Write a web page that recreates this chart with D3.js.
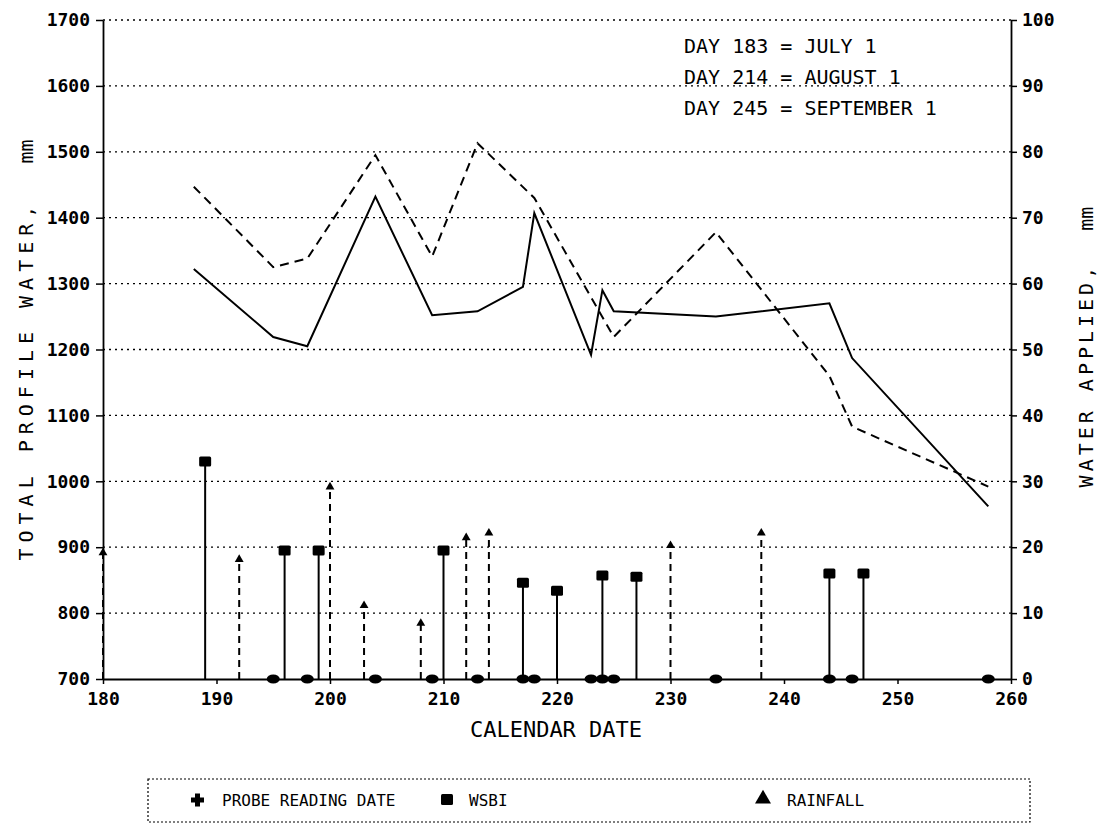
<!DOCTYPE html>
<html>
<head>
<meta charset="utf-8">
<script src="https://cdn.jsdelivr.net/npm/d3@7"></script>
<style>
  body { margin: 0; background: #fff; }
  svg text { font-family: 'DejaVu Sans Mono', monospace; fill: #000; }
</style>
</head>
<body>
<div id="chart"></div>
<script>
// readings, calendar day of year
const probeDays = [195, 198, 204, 209, 213, 217, 218, 223, 224, 225, 234, 244, 246, 258];

const wsbiDays = [189, 196, 199, 210, 217, 220, 224, 227, 244, 247];
const wsbiApplied = [33, 19.5, 19.5, 19.5, 14.6, 13.4, 15.7, 15.5, 16, 16];

const rainDays = [180, 192, 200, 203, 208, 212, 214, 230, 238];
const rainAmount = [19, 18, 29, 11, 8.3, 21.3, 22, 20.1, 22];

// total profile water, two treatments
const solidDays = [188, 195, 198, 204, 209, 213, 217, 218, 223, 224, 225, 234, 244, 246, 258];
const solidWater = [1322, 1219, 1205, 1432, 1252, 1258, 1295, 1407, 1192, 1290, 1258, 1250, 1270, 1187, 962];

const dashedDays = [188, 195, 198, 204, 209, 213, 218, 225, 234, 244, 246, 258];
const dashedWater = [1447, 1325, 1338, 1495, 1341, 1513, 1430, 1219, 1378, 1160, 1083, 992];

const xTicks = [180, 190, 200, 210, 220, 230, 240, 250, 260];
const leftTicks = [700, 800, 900, 1000, 1100, 1200, 1300, 1400, 1500, 1600, 1700];
const rightTicks = [0, 10, 20, 30, 40, 50, 60, 70, 80, 90, 100];

const notes = ['DAY 183 = JULY 1', 'DAY 214 = AUGUST 1', 'DAY 245 = SEPTEMBER 1'];

class WaterChart {
  selection(selector) {
    this._selection = d3.select(selector);
    return this;
  }

  props = {
    width: 1100,
    height: 825,
    left: 103,
    right: 1011,
    top: 20,
    bottom: 679,
    gridDash: '2,4',
  };

  draw() {
    const p = this.props;

    const svg = this._selection.append('svg')
      .attr('width', p.width)
      .attr('height', p.height);

    const x = d3.scaleLinear().domain([180, 260]).range([p.left, p.right]);
    const yL = d3.scaleLinear().domain([700, 1700]).range([p.bottom, p.top]);
    const yR = d3.scaleLinear().domain([0, 100]).range([p.bottom, p.top]);
    const fmt = d3.format('d');

    // dotted grid, the top border is dotted too
    svg.append('g').attr('class', 'grid')
      .selectAll('line')
      .data(leftTicks.slice(1))
      .join('line')
      .attr('x1', p.left).attr('x2', p.right)
      .attr('y1', d => yL(d)).attr('y2', d => yL(d))
      .attr('stroke', '#000')
      .attr('stroke-width', 1.3)
      .attr('stroke-dasharray', p.gridDash);

    const xAxis = svg.append('g')
      .attr('transform', `translate(0,${p.bottom})`)
      .call(d3.axisBottom(x).tickValues(xTicks).tickFormat(fmt).tickSize(5).tickPadding(8).tickSizeOuter(0));

    const leftAxis = svg.append('g')
      .attr('transform', `translate(${p.left},0)`)
      .call(d3.axisLeft(yL).tickValues(leftTicks).tickFormat(fmt).tickSize(7).tickPadding(6).tickSizeOuter(0));

    const rightAxis = svg.append('g')
      .attr('transform', `translate(${p.right},0)`)
      .call(d3.axisRight(yR).tickValues(rightTicks).tickFormat(fmt).tickSize(6).tickPadding(5).tickSizeOuter(0));

    [xAxis, leftAxis, rightAxis].forEach(g => {
      g.select('.domain').attr('stroke', '#000').attr('stroke-width', 1.8);
      g.selectAll('.tick line').attr('stroke', '#000').attr('stroke-width', 1.5);
      g.selectAll('.tick text')
        .attr('font-family', "'DejaVu Sans Mono', monospace")
        .attr('font-weight', 'bold')
        .attr('font-size', 18)
        .attr('fill', '#000');
    });

    // stems: wsbi solid with squares, rainfall dashed with triangles
    const wsbi = d3.zip(wsbiDays, wsbiApplied);
    const rain = d3.zip(rainDays, rainAmount);

    svg.append('g').selectAll('line')
      .data(wsbi)
      .join('line')
      .attr('x1', d => x(d[0])).attr('x2', d => x(d[0]))
      .attr('y1', yR(0)).attr('y2', d => yR(d[1]))
      .attr('stroke', '#000').attr('stroke-width', 2);

    svg.append('g').selectAll('rect')
      .data(wsbi)
      .join('rect')
      .attr('x', d => x(d[0]) - 6).attr('y', d => yR(d[1]) - 5)
      .attr('width', 12).attr('height', 10)
      .attr('rx', 1.5)
      .attr('fill', '#000');

    svg.append('g').selectAll('line')
      .data(rain)
      .join('line')
      .attr('x1', d => x(d[0])).attr('x2', d => x(d[0]))
      .attr('y1', yR(0)).attr('y2', d => yR(d[1]))
      .attr('stroke', '#000').attr('stroke-width', 2)
      .attr('stroke-dasharray', '7,5');

    const tri = d3.symbol().type(d3.symbolTriangle).size(34);
    svg.append('g').selectAll('path')
      .data(rain)
      .join('path')
      .attr('d', tri)
      .attr('transform', d => `translate(${x(d[0])},${yR(d[1]) - 1})`)
      .attr('fill', '#000');

    // probe reading dates sit on the baseline
    svg.append('g').selectAll('ellipse')
      .data(probeDays)
      .join('ellipse')
      .attr('cx', d => x(d)).attr('cy', yR(0))
      .attr('rx', 6.5).attr('ry', 4.5)
      .attr('fill', '#000');

    // profile water lines
    const line = d3.line().x(d => x(d[0])).y(d => yL(d[1]));

    svg.append('path')
      .datum(d3.zip(solidDays, solidWater))
      .attr('d', line)
      .attr('fill', 'none')
      .attr('stroke', '#000')
      .attr('stroke-width', 2);

    svg.append('path')
      .datum(d3.zip(dashedDays, dashedWater))
      .attr('d', line)
      .attr('fill', 'none')
      .attr('stroke', '#000')
      .attr('stroke-width', 2)
      .attr('stroke-dasharray', '9,6');

    // titles, the unit keeps normal spacing
    const leftTitle = svg.append('text')
      .attr('transform', 'translate(33,350) rotate(-90)')
      .attr('text-anchor', 'middle')
      .attr('font-size', 20)
      .attr('xml:space', 'preserve');
    leftTitle.append('tspan').attr('letter-spacing', 6).text('TOTAL PROFILE WATER,  ');
    leftTitle.append('tspan').attr('letter-spacing', 0).text('mm');

    const rightTitle = svg.append('text')
      .attr('transform', 'translate(1093,347) rotate(-90)')
      .attr('text-anchor', 'middle')
      .attr('font-size', 20)
      .attr('xml:space', 'preserve');
    rightTitle.append('tspan').attr('letter-spacing', 4).text('WATER APPLIED,  ');
    rightTitle.append('tspan').attr('letter-spacing', 0).text('mm');

    svg.append('text')
      .attr('x', 556).attr('y', 737)
      .attr('text-anchor', 'middle')
      .attr('font-size', 22)
      .text('CALENDAR DATE');

    svg.append('g').selectAll('text')
      .data(notes)
      .join('text')
      .attr('x', 684)
      .attr('y', (d, i) => 53 + i * 31)
      .attr('font-size', 20)
      .attr('xml:space', 'preserve')
      .text(d => d);

    // legend
    const legend = svg.append('g');
    legend.append('rect')
      .attr('x', 148).attr('y', 779)
      .attr('width', 882).attr('height', 43)
      .attr('fill', 'none')
      .attr('stroke', '#000')
      .attr('stroke-width', 1.2)
      .attr('stroke-dasharray', '2,2');

    legend.append('path')
      .attr('d', 'M191,800h13M197.5,793.5v13')
      .attr('stroke', '#000').attr('stroke-width', 5);
    legend.append('rect')
      .attr('x', 441).attr('y', 794).attr('width', 12).attr('height', 11)
      .attr('rx', 1.5).attr('fill', '#000');
    legend.append('path')
      .attr('d', d3.symbol().type(d3.symbolTriangle).size(110))
      .attr('transform', 'translate(763,799)')
      .attr('fill', '#000');

    legend.selectAll('text')
      .data([['PROBE READING DATE', 222], ['WSBI', 469], ['RAINFALL', 787]])
      .join('text')
      .attr('x', d => d[1]).attr('y', 806)
      .attr('font-size', 16)
      .text(d => d[0]);

    return this;
  }
}

new WaterChart().selection('#chart').draw();
</script>
</body>
</html>
